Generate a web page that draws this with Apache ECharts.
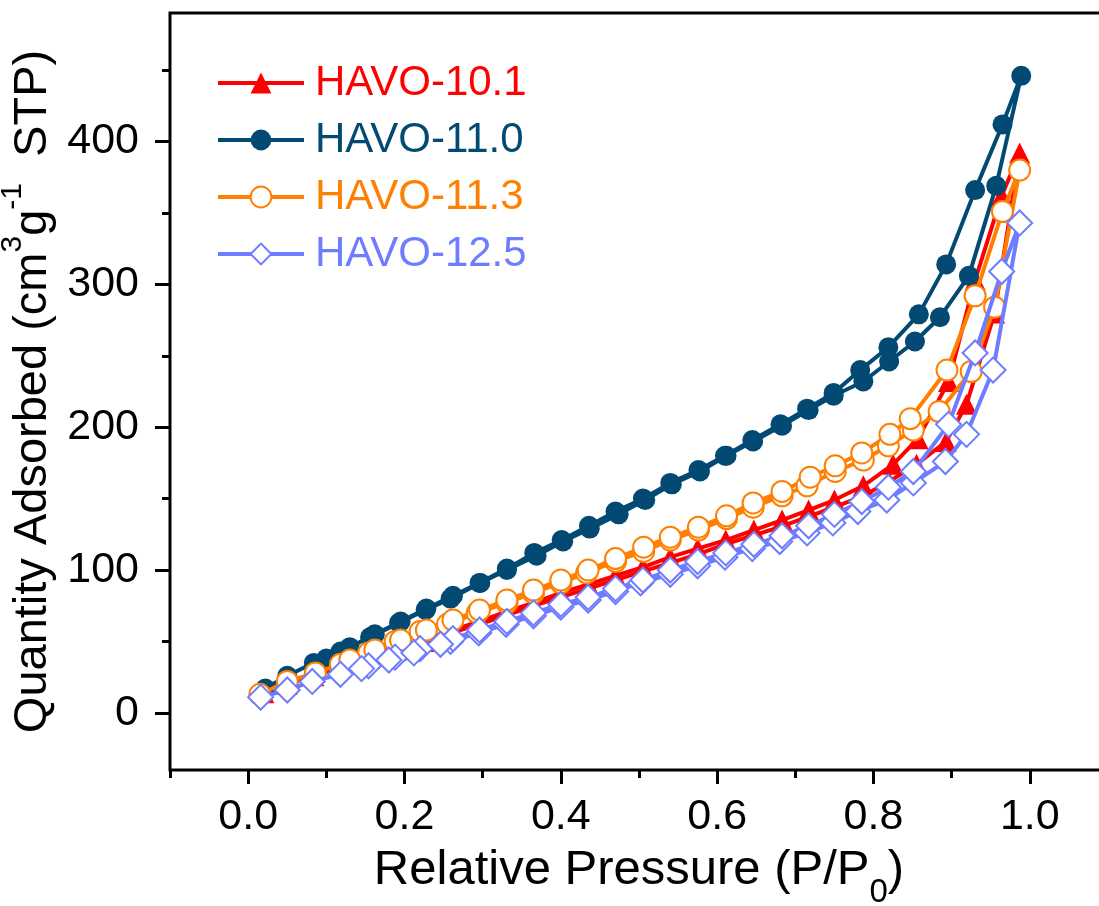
<!DOCTYPE html>
<html><head><meta charset="utf-8">
<script src="https://cdn.jsdelivr.net/npm/echarts@6/dist/echarts.min.js"></script>
<style>html,body{margin:0;padding:0;background:#fff}#c{width:1099px;height:906px}</style>
</head><body><div id="c"></div>
<script>
const seriesNames = ['HAVO-10.1','HAVO-11.0','HAVO-11.3','HAVO-12.5'];
const xMajorTicks = [0,0.2,0.4,0.6,0.8,1.0];
const xMinorTicks = [-0.1,0.1,0.3,0.5,0.7,0.9,1.1];
const yMajorTicks = [0,100,200,300,400];
const yMinorTicks = [50,150,250,350,450];

const havo101Ads = [[0.02,14],[0.05,20],[0.084,26],[0.118,32],[0.155,38],[0.19,44],[0.225,50],[0.26,56],[0.295,62],[0.33,68],[0.365,75],[0.40,81],[0.435,87],[0.47,93],[0.505,99],[0.54,105],[0.575,111],[0.61,118],[0.645,124],[0.68,130],[0.715,137],[0.75,144],[0.787,152],[0.82,162],[0.855,174],[0.893,190],[0.919,216],[0.955,280],[0.987,392]];
const havo101Des = [[0.964,362],[0.930,303],[0.896,232],[0.857,192],[0.825,174],[0.787,159],[0.75,149],[0.717,142],[0.683,135],[0.647,128],[0.611,121],[0.575,115],[0.54,109],[0.505,102],[0.47,96],[0.435,90],[0.40,84],[0.365,77],[0.331,71],[0.296,64],[0.262,58],[0.228,52],[0.195,46],[0.162,40],[0.13,34]];

const havo110Ads = [[0.022,17],[0.05,26],[0.084,35],[0.10,38],[0.118,43],[0.156,53],[0.193,63],[0.227,72],[0.259,80],[0.297,91],[0.331,100],[0.369,110],[0.403,120],[0.437,129],[0.474,139],[0.508,149],[0.542,160],[0.578,169],[0.612,180],[0.646,190],[0.683,201],[0.717,212],[0.749,222],[0.787,232],[0.820,246],[0.853,260],[0.885,277],[0.922,306],[0.957,369],[0.989,446]];
const havo110Des = [[0.965,412],[0.930,366],[0.893,314],[0.858,279],[0.819,256],[0.783,240],[0.749,224],[0.715,213],[0.681,202],[0.645,191],[0.610,180],[0.576,170],[0.540,161],[0.505,150],[0.470,141],[0.436,131],[0.401,121],[0.366,112],[0.331,101],[0.296,91],[0.262,82],[0.228,73],[0.195,64],[0.162,55],[0.13,46]];

const havo113Ads = [[0.015,13],[0.05,22],[0.086,28],[0.118,34],[0.154,42],[0.188,50],[0.22,57],[0.255,62],[0.293,70],[0.331,77],[0.365,84],[0.40,91],[0.433,98],[0.47,106],[0.506,113],[0.54,121],[0.576,128],[0.612,136],[0.646,144],[0.683,152],[0.715,159],[0.751,169],[0.787,177],[0.819,187],[0.851,198],[0.884,211],[0.925,239],[0.955,284],[0.987,380]];
const havo113Des = [[0.965,351],[0.930,292],[0.894,240],[0.847,206],[0.821,195],[0.785,182],[0.751,173],[0.719,165],[0.683,155],[0.646,147],[0.612,138],[0.576,130],[0.54,123],[0.506,116],[0.47,108],[0.435,100],[0.40,93],[0.365,86],[0.331,79],[0.296,72],[0.262,65],[0.228,58],[0.195,51],[0.162,44],[0.13,37]];

const havo125Ads = [[0.016,11],[0.05,16],[0.082,22],[0.118,27],[0.154,33],[0.188,39],[0.22,45],[0.259,50],[0.295,56],[0.33,62],[0.365,68],[0.40,74],[0.435,79],[0.47,85],[0.502,91],[0.54,97],[0.575,103],[0.61,109],[0.645,115],[0.68,120],[0.715,126],[0.748,133],[0.78,141],[0.817,149],[0.851,161],[0.892,176],[0.919,195],[0.953,240],[0.987,343]];
const havo125Des = [[0.964,309],[0.930,252],[0.896,202],[0.851,169],[0.819,158],[0.785,148],[0.75,139],[0.717,131],[0.683,124],[0.647,118],[0.611,112],[0.575,106],[0.54,100],[0.505,93],[0.47,87],[0.435,81],[0.40,76],[0.365,70],[0.331,64],[0.296,58],[0.262,52],[0.246,48],[0.212,42],[0.18,37],[0.145,31]];

const colors = ['#FF0000','#024A73','#FF8000','#6E7CFF'];
const FONT = 'Liberation Sans, Arial, Helvetica, sans-serif';

const chart = echarts.init(document.getElementById('c'), null, {renderer:'canvas'});

function mk(i, data, symbol, size, hollow){
  return {
    name: seriesNames[i], type:'line', data: data, xAxisIndex:0, yAxisIndex:0,
    symbol: symbol, symbolSize: size, showSymbol:true, showAllSymbol:true,
    animation:false, z: 2+i,
    lineStyle:{color:colors[i], width:4},
    itemStyle: hollow ? {color:'#fff', borderColor:colors[i], borderWidth:2, opacity:1}
                      : {color:colors[i], borderWidth:0, opacity:1}
  };
}

const noLine = {show:false, onZero:false};

const option = {
  animation:false,
  backgroundColor:'#fff',
  grid:{left:170, right:-9, top:13, bottom:136, show:true, borderColor:'#000', borderWidth:3, containLabel:false, outerBoundsMode:'none'},
  legend:{
    orient:'vertical', left:211, top:57, itemWidth:86, itemHeight:26, itemGap:15,
    data: seriesNames.map((n,i)=>({name:n, textStyle:{color:colors[i]}})),
    textStyle:{fontSize:42, fontFamily:FONT, padding:[0,0,0,6]},
    lineStyle:{width:4},
    selectedMode:false
  },
  xAxis:[
    {type:'value', min:-0.1, max:1.1, position:'bottom',
     axisLine:noLine, splitLine:{show:false},
     axisTick:{show:true, customValues:xMajorTicks, length:14, inside:false, lineStyle:{color:'#000', width:3}},
     axisLabel:{customValues:xMajorTicks, fontSize:43, fontFamily:FONT, color:'#000', margin:26, formatter:v=>v.toFixed(1)},
     name:'Relative Pressure (P/P{sub|0})', nameLocation:'middle', nameGap:76,
     nameTextStyle:{fontSize:49, fontFamily:FONT, color:'#000', rich:{sub:{fontSize:33, fontFamily:FONT, color:'#000', verticalAlign:'bottom', padding:[0,0,-14,0]}}}
    },
    {type:'value', min:-0.1, max:1.1, position:'bottom',
     axisLine:noLine, splitLine:{show:false},
     axisTick:{show:true, customValues:xMinorTicks, length:8, lineStyle:{color:'#000', width:3}},
     axisLabel:{show:false}}
  ],
  yAxis:[
    {type:'value', min:-40, max:490, position:'left',
     axisLine:noLine, splitLine:{show:false},
     axisTick:{show:true, customValues:yMajorTicks, length:15, lineStyle:{color:'#000', width:3}},
     axisLabel:{customValues:yMajorTicks, fontSize:43, fontFamily:FONT, color:'#000', margin:31},
     name:'Quantity Adsorbed (cm{sup|3}g{sup|-1}  STP)', nameLocation:'middle', nameGap:90,
     nameTextStyle:{fontSize:47, fontFamily:FONT, color:'#000', rich:{sup:{fontSize:30, fontFamily:FONT, color:'#000', verticalAlign:'top', padding:[-12,0,0,0]}}}
    },
    {type:'value', min:-40, max:490, position:'left',
     axisLine:noLine, splitLine:{show:false},
     axisTick:{show:true, customValues:yMinorTicks, length:8, lineStyle:{color:'#000', width:3}},
     axisLabel:{show:false}}
  ],
  series:[
    mk(0, havo101Ads.concat(havo101Des), 'triangle', 21, false),
    mk(1, havo110Ads.concat(havo110Des), 'circle', 20, false),
    mk(2, havo113Ads.concat(havo113Des), 'circle', 21, true),
    mk(3, havo125Ads.concat(havo125Des), 'diamond', 25, true)
  ]
};
chart.setOption(option);
</script>
</body></html>
